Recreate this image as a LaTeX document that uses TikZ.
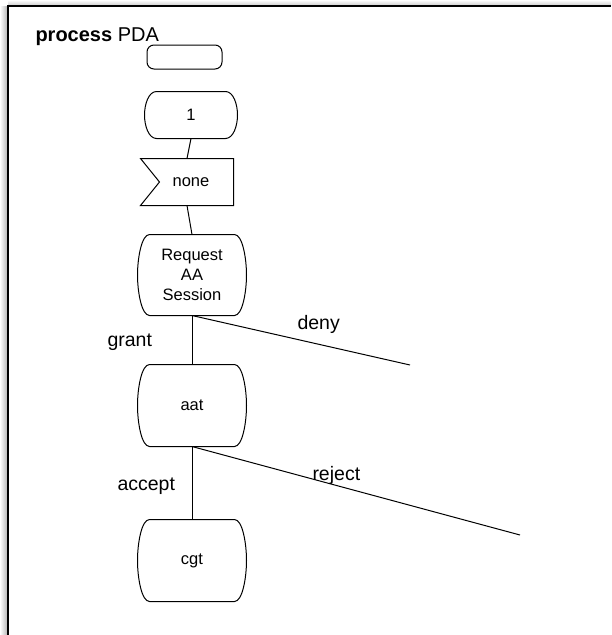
\documentclass[tikz,border=0pt]{standalone}
\usepackage{fontspec}
\setmainfont{Liberation Sans}

\begin{document}
\begin{tikzpicture}[x=1pt,y=-1pt,line width=1pt,font=\fontsize{16.5}{20}\selectfont,
    lbl/.style={font=\fontsize{19.5}{22}\selectfont,anchor=base west,inner sep=0pt},
    startbox/.style={draw,rounded corners=7pt,minimum width=75pt,minimum height=24pt},
    statebox/.default=24pt,
    statebox/.style={inner sep=0pt,align=center,minimum width=108pt,minimum height=80pt,
      append after command={\pgfextra{\draw ([xshift=-12pt]\tikzlastnode.north east)
        .. controls ([xshift=-4pt]\tikzlastnode.north east) and ([yshift=-#1]\tikzlastnode.north east) .. (\tikzlastnode.east)
        .. controls ([yshift=#1]\tikzlastnode.south east) and ([xshift=-4pt]\tikzlastnode.south east) .. ([xshift=-12pt]\tikzlastnode.south east)
        -- ([xshift=12pt]\tikzlastnode.south west)
        .. controls ([xshift=4pt]\tikzlastnode.south west) and ([yshift=#1]\tikzlastnode.south west) .. (\tikzlastnode.west)
        .. controls ([yshift=-#1]\tikzlastnode.north west) and ([xshift=4pt]\tikzlastnode.north west) .. ([xshift=12pt]\tikzlastnode.north west)
        -- cycle;}}},
    inputbox/.style={inner sep=0pt,minimum width=92pt,minimum height=46pt,
      append after command={\pgfextra{\draw (\tikzlastnode.north west) -- (\tikzlastnode.north east)
        -- (\tikzlastnode.south east) -- (\tikzlastnode.south west)
        -- ([xshift=19pt]\tikzlastnode.west) -- cycle;}}}]
  \useasboundingbox (0,0) rectangle (611,635);
  % frame and its shadow
  \shade[left color=white,right color=gray!55,draw=none] (0,6) rectangle (7,635);
  \shade[top color=white,bottom color=gray!35,draw=none] (8,0) rectangle (611,5);
  \draw[line width=1.6pt] (8,635) -- (8,6) -- (611,6);
  \node[lbl,font=\fontsize{20}{22}\selectfont] (title) at (35,41) {\textbf{process} PDA};
  % states
  \node[startbox] (start) at (184.5,57) {};
  \node[statebox=13pt,minimum width=92pt,minimum height=46pt] (one) at (191,115) {1};
  \node[inputbox] (none) at (187,182) {\hspace{8pt}none};
  \node[statebox] (req) at (192,275) {Request\\AA\\Session};
  \node[statebox,minimum height=81pt] (aat) at (192,405.5) {aat};
  \node[statebox,minimum height=81pt] (cgt) at (192,560.5) {cgt};
  \coordinate (denyend) at (410,365);
  \coordinate (rejectend) at (520,535);
  % transitions
  \draw (one.south) -- (none.north);
  \draw (none.south) -- (req.north);
  \draw (req.south) -- (aat.north);
  \draw (req.south) -- (denyend);
  \draw (aat.south) -- (cgt.north);
  \draw (aat.south) -- (rejectend);
  \node[lbl] (grant) at (107,346) {grant};
  \node[lbl] (deny) at (297,329) {deny};
  \node[lbl] (accept) at (117,490) {accept};
  \node[lbl] (reject) at (312,480) {reject};
\end{tikzpicture}
\end{document}
